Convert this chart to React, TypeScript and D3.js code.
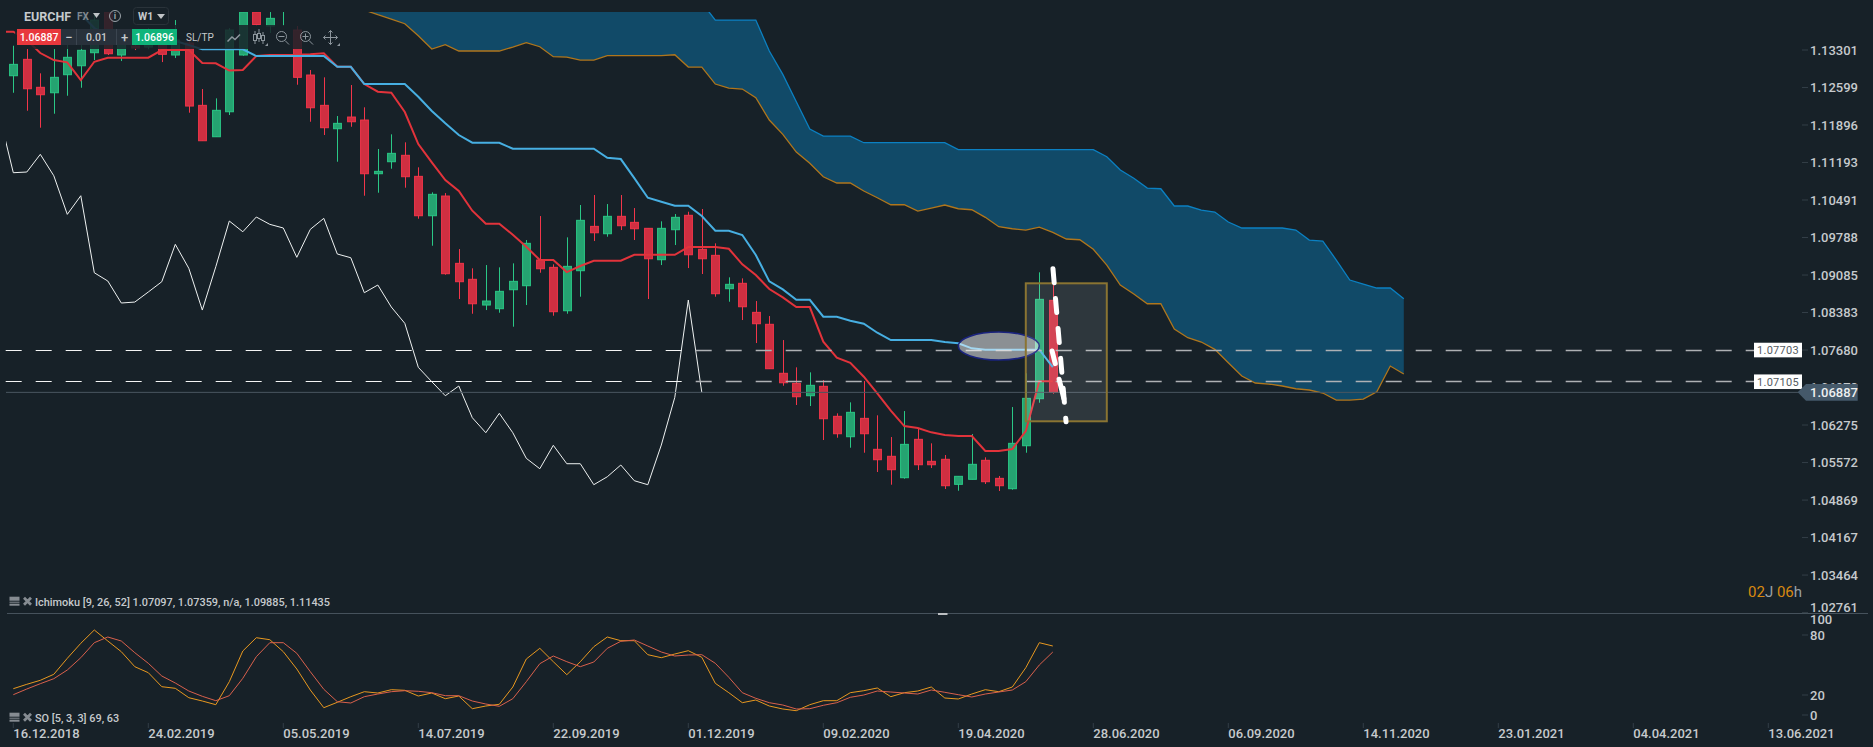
import { useRef, useEffect } from 'react'
import * as d3 from 'd3'

const opens = [1.12819,1.13126,1.12602,1.125,1.12838,1.13006,1.1325,1.14012,1.13207,1.13375,1.13356,1.13525,1.13207,1.13431,1.12264,1.11676,1.12144,1.13207,1.14012,1.1375,1.14068,1.13675,1.12832,1.12264,1.11826,1.12045,1.11989,1.10983,1.11208,1.11328,1.10934,1.10196,1.10565,1.09304,1.09005,1.08523,1.08454,1.0881,1.08885,1.09366,1.09229,1.08416,1.09166,1.09997,1.09859,1.10185,1.10072,1.0996,1.09372,1.09934,1.10204,1.09567,1.09454,1.08829,1.0893,1.08386,1.08162,1.07244,1.07056,1.06824,1.07,1.06438,1.06056,1.064,1.0582,1.05689,1.05288,1.06007,1.05595,1.05633,1.05164,1.05258,1.05614,1.05276,1.05082,1.05887,1.06768,1.08611]
const highs = [1.13381,1.13319,1.12864,1.13319,1.13394,1.13394,1.13975,1.14087,1.13563,1.13488,1.13712,1.13675,1.13862,1.13525,1.1257,1.12395,1.13712,1.14087,1.14087,1.14012,1.142,1.1375,1.12926,1.12789,1.12064,1.12645,1.12227,1.11446,1.11721,1.11571,1.11103,1.10634,1.10621,1.09572,1.09211,1.09272,1.09229,1.09304,1.09741,1.1019,1.09286,1.09791,1.10397,1.10584,1.10415,1.10584,1.1034,1.0996,1.10091,1.10228,1.10271,1.10322,1.09679,1.09042,1.09023,1.08598,1.08317,1.07867,1.07356,1.07262,1.07118,1.06494,1.067,1.07099,1.06457,1.0605,1.06537,1.06213,1.05932,1.05713,1.05314,1.06106,1.0567,1.0532,1.06612,1.07244,1.09136,1.0893]
const lows = [1.125,1.12163,1.11845,1.12107,1.12444,1.12594,1.13113,1.13207,1.13094,1.133,1.13319,1.13075,1.1315,1.12126,1.11601,1.11676,1.12083,1.13194,1.1375,1.13619,1.1375,1.1265,1.11957,1.11708,1.11208,1.11863,1.10571,1.10627,1.11077,1.10721,1.1014,1.09634,1.09091,1.08636,1.0836,1.08429,1.08379,1.08117,1.08523,1.09128,1.08323,1.0836,1.08679,1.09722,1.09803,1.09928,1.09741,1.08636,1.09272,1.09647,1.09216,1.09104,1.08679,1.08585,1.08242,1.07811,1.0733,1.07011,1.0665,1.06631,1.05994,1.06037,1.0585,1.05756,1.05395,1.05157,1.05269,1.05432,1.05469,1.05076,1.05044,1.05258,1.0517,1.05039,1.05063,1.05756,1.06693,1.06861]
const closes = [1.13032,1.12575,1.12463,1.12789,1.13164,1.13295,1.13862,1.13231,1.13488,1.13338,1.13619,1.1322,1.13488,1.12251,1.11601,1.12171,1.13675,1.14012,1.13778,1.13894,1.14125,1.12789,1.12219,1.11845,1.11927,1.11957,1.10983,1.11028,1.11365,1.10927,1.10196,1.10597,1.0911,1.0896,1.08547,1.08598,1.0878,1.08967,1.09679,1.09203,1.08398,1.09248,1.1011,1.09877,1.10185,1.10009,1.09952,1.0939,1.0996,1.10166,1.09465,1.0939,1.08735,1.08911,1.08491,1.08173,1.0733,1.07067,1.06805,1.07019,1.06393,1.06112,1.06513,1.06112,1.05625,1.05438,1.05913,1.05531,1.05531,1.05138,1.05314,1.05539,1.05213,1.05138,1.05932,1.06775,1.0863,1.06887]

// index -1 .. 77
const tenkan = [1.13643,1.13643,1.13488,1.13244,1.13113,1.1307,1.12738,1.13081,1.13156,1.13156,1.13156,1.13156,1.133,1.133,1.133,1.13057,1.13051,1.12916,1.12926,1.13188,1.13207,1.13207,1.1321,1.1322,1.13238,1.12987,1.12987,1.12663,1.12519,1.125,1.12139,1.11539,1.11196,1.10865,1.10659,1.1029,1.10046,1.10046,1.0984,1.09615,1.09366,1.09366,1.09141,1.09254,1.09353,1.09353,1.09353,1.09465,1.09465,1.09465,1.09465,1.0961,1.0961,1.0961,1.09578,1.09286,1.09085,1.08823,1.08667,1.08486,1.08486,1.07836,1.07536,1.07442,1.0718,1.06869,1.06543,1.06256,1.06219,1.06138,1.06088,1.06069,1.06069,1.05788,1.05788,1.05825,1.06163,1.07097,1.07097]
// index 4 .. 77
const kijun = [1.14237,1.13975,1.13712,1.136,1.13563,1.13525,1.13506,1.13488,1.13469,1.13394,1.13313,1.13313,1.13313,1.13313,1.13188,1.13188,1.13188,1.13188,1.13188,1.13188,1.12987,1.12987,1.12663,1.12663,1.12663,1.12663,1.12425,1.12158,1.11927,1.11708,1.11564,1.11564,1.11564,1.11451,1.11451,1.11451,1.11451,1.11451,1.11451,1.11451,1.11283,1.11258,1.10902,1.10533,1.10458,1.10383,1.10383,1.1019,1.09915,1.09915,1.09835,1.0946,1.08967,1.08817,1.08622,1.08622,1.08304,1.08304,1.08229,1.08173,1.08004,1.07867,1.07867,1.07867,1.07867,1.0783,1.07806,1.07712,1.07686,1.07686,1.07686,1.07686,1.07686,1.07359]
// index -1 .. 51
const chikou = [1.12045,1.11002,1.11015,1.11346,1.10945,1.10222,1.10571,1.09128,1.08973,1.08561,1.08579,1.08767,1.0896,1.0966,1.09211,1.08429,1.09241,1.10097,1.09896,1.10172,1.10035,1.09966,1.09417,1.09941,1.10147,1.09479,1.09409,1.08754,1.08898,1.08486,1.0818,1.07356,1.07086,1.06824,1.07006,1.06412,1.06131,1.06494,1.06131,1.05651,1.05456,1.05895,1.0555,1.0555,1.05157,1.05306,1.05526,1.05232,1.05157,1.059,1.06794,1.08617,1.06887]
// index 26 .. 103
const spanUpper = [1.14705,1.14705,1.14705,1.14705,1.14705,1.14705,1.14705,1.14705,1.14705,1.14705,1.14705,1.14705,1.14705,1.14705,1.14705,1.14705,1.14705,1.14705,1.14705,1.14424,1.14424,1.14424,1.14424,1.14424,1.14424,1.14186,1.13862,1.13862,1.13862,1.13862,1.13282,1.12845,1.12332,1.1182,1.11689,1.11689,1.11689,1.11564,1.11564,1.11564,1.11564,1.11564,1.11564,1.11564,1.11435,1.11435,1.11435,1.11435,1.11435,1.11435,1.11435,1.11435,1.11435,1.11435,1.11435,1.11301,1.11052,1.10897,1.10715,1.10702,1.10378,1.10378,1.10303,1.10265,1.10078,1.09966,1.09966,1.09966,1.09966,1.09928,1.09741,1.09722,1.09366,1.08991,1.08917,1.08842,1.08842,1.08641]
const spanLower = [1.1405,1.13962,1.13881,1.13793,1.13568,1.13319,1.134,1.13282,1.13282,1.13282,1.13282,1.13356,1.13437,1.13362,1.13175,1.13169,1.13113,1.13113,1.13194,1.13194,1.13194,1.13194,1.13194,1.13212,1.12982,1.12982,1.12663,1.12588,1.1257,1.12407,1.11989,1.11721,1.11389,1.11178,1.10927,1.10809,1.10809,1.10659,1.10533,1.10402,1.10402,1.10284,1.1034,1.10397,1.10327,1.10308,1.10166,1.0999,1.09952,1.09928,1.09984,1.09885,1.0976,1.09746,1.09567,1.09272,1.08898,1.08729,1.08547,1.08547,1.08073,1.07911,1.0783,1.07693,1.07442,1.07193,1.07062,1.07043,1.07006,1.06955,1.06931,1.06875,1.06743,1.06743,1.06762,1.06899,1.0738,1.0723]

const stochK = [26.3,30.7,34.7,40.7,56.7,71.7,85,74,63.3,48.3,42.3,28.3,26.7,17.3,14,10.3,33.3,64,77.3,75.3,63.3,46,25,7.3,12.7,18.3,23.3,22,25.3,24.7,19,22,16.3,19,6.3,9,10.7,28,56,66.7,53.3,40.3,53.3,68.3,78,74.3,74.3,60.3,57.3,61,64.3,57.7,31.7,22.3,12.3,15,9,6,4.3,10.3,14.3,14.3,22.3,24.3,27,18.3,22.3,24,28,17,16,21,25.3,23.3,28,47.3,72.3,69]
const stochD = [20.3,26,31.3,36.3,45,57.3,72.3,78,74,62.3,51.7,39,32,24,18.7,14.3,19.3,36.7,58.3,72.3,72.3,61.7,43.3,25.7,13.3,12,18.3,21,23.3,24.3,23.7,22.3,19.3,19.3,14,11,8.7,16.3,33.3,51.3,59,53.3,48.3,53,66.7,73.7,75,69,63,59,60,60.3,51.7,37.7,22.3,16.7,12.3,10,6,6.3,9.7,12.3,17.7,20,24,23,22,21,25,22.7,20.3,18,21,23,25,33.3,50,63]

const priceTicks = [1.13301,1.12599,1.11896,1.11193,1.10491,1.09788,1.09085,1.08383,1.0768,1.06978,1.06275,1.05572,1.04869,1.04167,1.03464,1.02761]
const stochTicks = [100,80,20,0]
const dateLabels = ['16.12.2018','24.02.2019','05.05.2019','14.07.2019','22.09.2019','01.12.2019','09.02.2020','19.04.2020','28.06.2020','06.09.2020','14.11.2020','23.01.2021','04.04.2021','13.06.2021']
const dateTicks = [0,10,20,30,40,50,60,70,80,90,100,110,120,130]
const levelPrices = [1.0768,1.07086]
const levelLabels = ['1.07703','1.07105']
const lastPrice = 1.06887

const BG = '#172128'
const FONT = 'Roboto, sans-serif'

export default function App() {
  const svgRef = useRef<SVGSVGElement>(null)

  useEffect(() => {
    if (!svgRef.current) return
    const svg = d3.select(svgRef.current)
    svg.selectAll('*').remove()

    const x = d3.scaleLinear().domain([0, 130]).range([13.3, 1768.3])
    const y = d3.scaleLinear().domain([1.13301, 1.02761]).range([50, 612.6])
    const so = d3.scaleLinear().domain([0, 100]).range([715, 615])

    svg.append('rect').attr('width', 1873).attr('height', 747).attr('fill', BG)

    const defs = svg.append('defs')
    defs.append('clipPath').attr('id', 'plot')
      .append('rect').attr('x', 6).attr('y', 12).attr('width', 1796).attr('height', 601)

    const plot = svg.append('g').attr('clip-path', 'url(#plot)')

    const lineFrom = (start: number) =>
      d3.line<number>().x((_, i) => x(i + start)).y((d) => y(d))

    // Cloud
    const cloud = d3.area<number>()
      .x((_, i) => x(i + 26))
      .y0((_, i) => y(spanLower[i]))
      .y1((d) => y(d))
    plot.append('path').datum(spanUpper).attr('d', cloud).attr('fill', '#114a68')
    plot.append('path').datum(spanUpper).attr('d', lineFrom(26)).attr('fill', 'none')
      .attr('stroke', '#0b80c2').attr('stroke-width', 1.3)
    plot.append('path').datum(spanLower).attr('d', lineFrom(26)).attr('fill', 'none')
      .attr('stroke', '#b0761c').attr('stroke-width', 1.3)

    // Chikou
    plot.append('path').datum(chikou).attr('d', lineFrom(-1)).attr('fill', 'none')
      .attr('stroke', '#eef1f1').attr('stroke-width', 1)

    // Candles
    const candles = plot.selectAll('.candle').data(opens).join('g').attr('class', 'candle')
    const isUp = (i: number) => closes[i] >= opens[i]
    candles.append('line')
      .attr('x1', (_, i) => Math.round(x(i)) + 0.5)
      .attr('x2', (_, i) => Math.round(x(i)) + 0.5)
      .attr('y1', (_, i) => y(highs[i]))
      .attr('y2', (_, i) => y(lows[i]))
      .attr('stroke', (_, i) => (isUp(i) ? '#2ac886' : '#f2364a'))
    candles.append('rect')
      .attr('x', (_, i) => Math.round(x(i)) + 0.5 - 3.9)
      .attr('width', 7.8)
      .attr('y', (_, i) => y(Math.max(opens[i], closes[i])))
      .attr('height', (_, i) => Math.max(1, Math.abs(y(opens[i]) - y(closes[i]))))
      .attr('fill', (_, i) => (isUp(i) ? '#25a371' : '#cf2f41'))
      .attr('stroke', (_, i) => (isUp(i) ? '#2ac886' : '#f2364a'))

    // Tenkan, kijun
    plot.append('path').datum(tenkan).attr('d', lineFrom(-1)).attr('fill', 'none')
      .attr('stroke', '#e2333b').attr('stroke-width', 2)
    plot.append('path').datum(kijun).attr('d', lineFrom(4)).attr('fill', 'none')
      .attr('stroke', '#47afe2').attr('stroke-width', 2)

    // Levels: thin and white on the left, wider and grey to the right
    levelPrices.forEach((p) => {
      const ly = Math.floor(y(p))
      svg.append('line').attr('x1', 5.7).attr('x2', 695.7).attr('y1', ly + 0.5).attr('y2', ly + 0.5)
        .attr('stroke', '#f4f5f5').attr('stroke-width', 1).attr('stroke-dasharray', '16 14')
      svg.append('line').attr('x1', 695.7).attr('x2', 1754).attr('y1', ly + 0.5).attr('y2', ly + 0.5)
        .attr('stroke', '#aeb1b4').attr('stroke-width', 1.6).attr('stroke-dasharray', '16 14')
    })
    svg.append('line').attr('x1', 6).attr('x2', 1806).attr('y1', y(lastPrice)).attr('y2', y(lastPrice))
      .attr('stroke', '#4a5661').attr('stroke-width', 1)

    // Annotations
    svg.append('ellipse').attr('cx', x(73)).attr('cy', y(1.07755))
      .attr('rx', (x(76) - x(70)) / 2).attr('ry', 14)
      .attr('fill', '#ffffff').attr('fill-opacity', 0.5)
      .attr('stroke', '#1a237e').attr('stroke-width', 1.6)
    svg.append('rect').attr('x', x(75)).attr('y', y(1.0893))
      .attr('width', x(81) - x(75)).attr('height', y(1.06345) - y(1.0893))
      .attr('fill', '#ffffff').attr('fill-opacity', 0.1)
      .attr('stroke', '#8a7432').attr('stroke-width', 2)
    svg.append('line').attr('x1', x(77)).attr('y1', y(1.09241)).attr('x2', x(77.98)).attr('y2', y(1.06337))
      .attr('stroke', '#fff').attr('stroke-width', 5).attr('stroke-linecap', 'round')
      .attr('stroke-dasharray', '14 16').attr('stroke-dashoffset', -2)
    svg.append('line').attr('x1', x(76.95)).attr('y1', y(1.07661)).attr('x2', x(77.9)).attr('y2', y(1.06687))
      .attr('stroke', '#fff').attr('stroke-width', 5).attr('stroke-linecap', 'round')
      .attr('stroke-dasharray', '13 16 20')

    // Level labels
    levelPrices.forEach((p, i) => {
      svg.append('rect').attr('x', 1754).attr('y', y(p) - 7.3).attr('width', 48).attr('height', 14.6).attr('fill', '#fff')
      svg.append('text').attr('x', 1778).attr('y', y(p)).attr('dy', '0.35em')
        .attr('text-anchor', 'middle').attr('fill', '#555c62')
        .attr('font-family', FONT).attr('font-size', 11).attr('letter-spacing', 0.3)
        .text(levelLabels[i])
    })

    // Stochastic
    const soLine = d3.line<number>().x((_, i) => x(i)).y((d) => so(d))
    svg.append('path').datum(stochK).attr('d', soLine).attr('fill', 'none')
      .attr('stroke', '#e8981f').attr('stroke-width', 1)
    svg.append('path').datum(stochD).attr('d', soLine).attr('fill', 'none')
      .attr('stroke', '#d9604c').attr('stroke-width', 1)

    // Separator
    svg.append('line').attr('x1', 7).attr('x2', 1868).attr('y1', 613.5).attr('y2', 613.5)
      .attr('stroke', '#46525c')
    svg.append('rect').attr('x', 938).attr('y', 613).attr('width', 9.5).attr('height', 2).attr('fill', '#bcbfc2')

    // Axes
    const styleAxis = (g: d3.Selection<SVGGElement, unknown, null, undefined>) => {
      g.select('.domain').remove()
      g.selectAll('.tick line').attr('stroke', '#333e47')
      g.selectAll('.tick text').attr('fill', '#c6cacd')
        .attr('font-family', FONT).attr('font-size', 13).attr('font-weight', 500)
    }
    const priceAxis = svg.append('g').attr('transform', 'translate(1802,0)')
      .call(d3.axisRight(y).tickValues(priceTicks).tickFormat(d3.format('.5f') as any).tickSize(6).tickPadding(2).offset(0))
    styleAxis(priceAxis)
    priceAxis.selectAll<SVGTextElement, number>('.tick text')
      .attr('dy', (d) => (d === 1.02761 ? '-0.05em' : '0.36em'))

    const soAxis = svg.append('g').attr('transform', 'translate(1802,0)')
      .call(d3.axisRight(so).tickValues(stochTicks).tickSize(6).tickPadding(2).offset(0))
    styleAxis(soAxis)
    soAxis.selectAll<SVGLineElement, number>('.tick line').attr('opacity', (d) => (d === 100 ? 0 : 1))
    soAxis.selectAll<SVGTextElement, number>('.tick text')
      .attr('dy', (d) => (d === 100 ? '0.68em' : '0.36em'))

    const dateAxis = svg.append('g').attr('transform', 'translate(0,723)')
      .call(d3.axisBottom(x).tickValues(dateTicks)
        .tickFormat((_, i) => dateLabels[i]).tickSize(5).tickPadding(-1).offset(0))
    styleAxis(dateAxis)
    dateAxis.selectAll('.tick text').attr('text-anchor', 'start').attr('dy', '0.85em')

    // Last price tag
    const ty = y(lastPrice)
    const tag = d3.path()
    tag.moveTo(1797.7, ty)
    tag.lineTo(1806, ty - 8.3)
    tag.lineTo(1857.7, ty - 8.3)
    tag.lineTo(1857.7, ty + 8.3)
    tag.lineTo(1806, ty + 8.3)
    tag.closePath()
    svg.append('path').attr('d', tag.toString()).attr('fill', '#45596a')
    svg.append('text').attr('x', 1810).attr('y', ty).attr('dy', '0.36em')
      .attr('fill', '#eef0f1').attr('font-family', FONT).attr('font-size', 13).attr('font-weight', 500)
      .text(d3.format('.5f')(lastPrice))

    // Countdown
    const timer = svg.append('text').attr('x', 1748).attr('y', 592).attr('dy', '0.36em')
      .attr('font-family', FONT).attr('font-size', 15)
    timer.append('tspan').attr('fill', '#d98a10').text('02')
    timer.append('tspan').attr('fill', '#9aa0a5').text('J ')
    timer.append('tspan').attr('fill', '#d98a10').text('06')
    timer.append('tspan').attr('fill', '#9aa0a5').text('h')

    // Indicator legends
    const legends: [string, number][] = [
      ['Ichimoku [9, 26, 52] 1.07097, 1.07359, n/a, 1.09885, 1.11435', 601.7],
      ['SO [5, 3, 3] 69, 63', 717.7],
    ]
    legends.forEach(([text, ly]) => {
      svg.append('rect').attr('x', 9.5).attr('y', ly - 5).attr('width', 10).attr('height', 4).attr('fill', '#868c92')
      svg.append('rect').attr('x', 9.5).attr('y', ly).attr('width', 10).attr('height', 1).attr('fill', '#868c92')
      svg.append('rect').attr('x', 9.5).attr('y', ly + 2).attr('width', 10).attr('height', 2).attr('fill', '#868c92')
      svg.append('path').attr('d', `M24,${ly - 4}L31,${ly + 3}M31,${ly - 4}L24,${ly + 3}`)
        .attr('stroke', '#868c92').attr('stroke-width', 2.8)
      svg.append('text').attr('x', 35).attr('y', ly).attr('dy', '0.36em')
        .attr('fill', '#c6cacd').attr('font-family', FONT).attr('font-size', 10.9).attr('font-weight', 500)
        .text(text)
    })

    // Toolbar panels fade what is behind them
    svg.append('rect').attr('x', 15).attr('y', 25).attr('width', 335).attr('height', 24).attr('fill', BG).attr('opacity', 0.85)
    svg.append('rect').attr('x', 15).attr('y', 5).attr('width', 155).attr('height', 20).attr('fill', BG).attr('opacity', 0.85)

    const label = (t: string, tx: number, ty2: number, fill: string, size: number, weight: number, anchor = 'start') =>
      svg.append('text').attr('x', tx).attr('y', ty2).attr('dy', '0.36em').attr('text-anchor', anchor)
        .attr('fill', fill).attr('font-family', FONT).attr('font-size', size).attr('font-weight', weight).text(t)
    const triangle = (cx: number, cy: number, w: number, h: number, fill: string) =>
      svg.append('path').attr('d', `M${cx - w / 2},${cy}L${cx + w / 2},${cy}L${cx},${cy + h}Z`).attr('fill', fill)

    label('EURCHF', 24, 16, '#c6cacd', 12.5, 700)
    label('FX', 77, 16, '#7f888f', 10, 700)
    triangle(96.5, 13, 7, 5, '#c0c4c7')
    svg.append('circle').attr('cx', 115).attr('cy', 16).attr('r', 5.5).attr('fill', 'none').attr('stroke', '#9aa2a8')
    label('i', 115, 16, '#9aa2a8', 9, 700, 'middle')
    svg.append('rect').attr('x', 133.5).attr('y', 7.5).attr('width', 35).attr('height', 17).attr('rx', 3)
      .attr('fill', BG).attr('stroke', '#2a333a')
    label('W1', 138, 16, '#c6cacd', 10.5, 700)
    triangle(161, 14, 8, 5, '#c0c4c7')

    svg.append('rect').attr('x', 17).attr('y', 29).attr('width', 44).attr('height', 16).attr('fill', '#e8383d')
    label('1.06887', 39, 37, '#fff', 10.5, 500, 'middle')
    svg.append('rect').attr('x', 61).attr('y', 29).attr('width', 71).attr('height', 16).attr('fill', '#28313b')
    svg.append('line').attr('x1', 76.5).attr('x2', 76.5).attr('y1', 29).attr('y2', 45).attr('stroke', '#3b4550')
    svg.append('line').attr('x1', 116.5).attr('x2', 116.5).attr('y1', 29).attr('y2', 45).attr('stroke', '#3b4550')
    label('−', 69, 37, '#c6cacd', 13, 500, 'middle')
    label('0.01', 96.5, 37, '#c6cacd', 10.5, 500, 'middle')
    label('+', 124.5, 37, '#c6cacd', 13, 500, 'middle')
    svg.append('rect').attr('x', 132).attr('y', 29).attr('width', 45).attr('height', 16).attr('fill', '#0fb47a')
    label('1.06896', 154.5, 37, '#fff', 10.5, 500, 'middle')
    label('SL/TP', 186, 37, '#c6cacd', 10, 400)

    const icon = '#8d969d'
    const iconG = svg.append('g').attr('fill', 'none').attr('stroke', icon)
    iconG.append('path').attr('d', 'M227.5,41.5L232,37L235,39.5L240,34.5').attr('stroke-width', 1.5)
    iconG.append('path').attr('d', 'M255,31V44M259,29V42M263,32V44')
    iconG.append('rect').attr('x', 253.5).attr('y', 34.5).attr('width', 3).attr('height', 6).attr('fill', BG)
    iconG.append('rect').attr('x', 257.5).attr('y', 33.5).attr('width', 3).attr('height', 5).attr('fill', BG)
    iconG.append('rect').attr('x', 261.5).attr('y', 35.5).attr('width', 3).attr('height', 5).attr('fill', BG)
    iconG.append('circle').attr('cx', 281.5).attr('cy', 36.5).attr('r', 5)
    iconG.append('path').attr('d', 'M285,40.5L289,44.5M278.5,36.5H284.5')
    iconG.append('circle').attr('cx', 305.5).attr('cy', 36.5).attr('r', 5)
    iconG.append('path').attr('d', 'M309,40.5L313,44.5M302.5,36.5H308.5M305.5,33.5V39.5')
    iconG.append('path').attr('d', 'M330.5,30.5V44.5M323.5,37.5H337.5M328.5,32.5L330.5,30.5L332.5,32.5M328.5,42.5L330.5,44.5L332.5,42.5M325.5,35.5L323.5,37.5L325.5,39.5M335.5,35.5L337.5,37.5L335.5,39.5')
    svg.append('path').attr('d', 'M265,46h3v-3z').attr('fill', icon)
    svg.append('path').attr('d', 'M337,46h3v-3z').attr('fill', icon)
  }, [])

  return (
    <svg
      ref={svgRef}
      width={1873}
      height={747}
      style={{ position: 'absolute', left: 0, top: 0, display: 'block' }}
    />
  )
}
